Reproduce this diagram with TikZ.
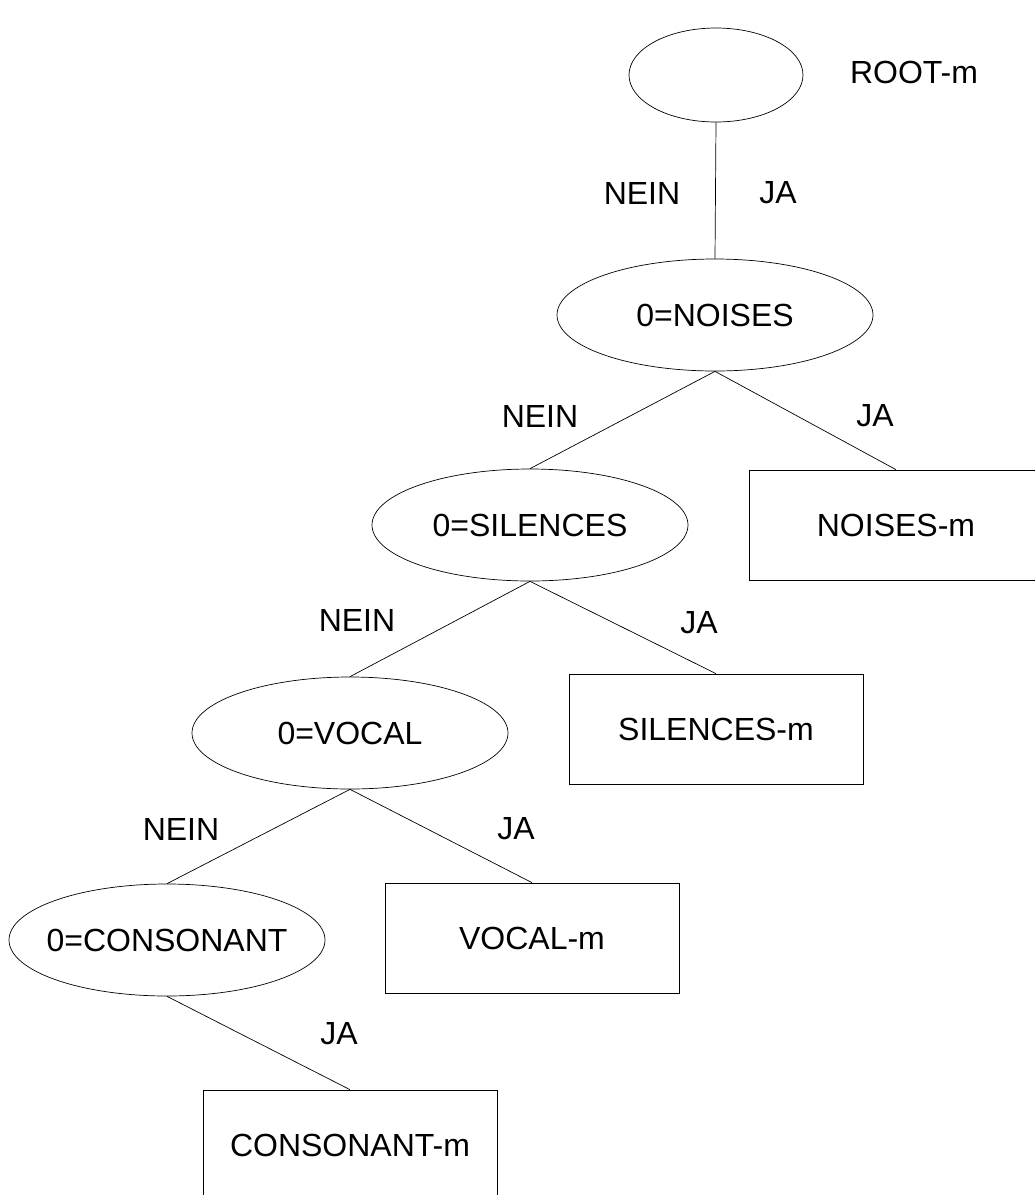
\documentclass[tikz,border=0pt]{standalone}
\usepackage{fontspec}
\setmainfont{Liberation Sans}
\usetikzlibrary{shapes.geometric}
\newcommand{\ctext}[1]{\makebox[0pt]{#1}}
\tikzset{
  oval/.style={draw, ellipse, line width=0.7pt, minimum width=316pt, minimum height=112pt, inner sep=0pt},
  rootoval/.style={draw, ellipse, line width=0.7pt, minimum width=174pt, minimum height=94pt, inner sep=0pt},
  leafbox/.style={draw, rectangle, line width=0.7pt, minimum width=294pt, minimum height=110pt, inner sep=0pt},
  lbl/.style={inner sep=0pt, font=\fontsize{32}{36}\selectfont},
  edge/.style={line width=0.7pt}
}
\begin{document}
\begin{tikzpicture}[x=1pt, y=-1pt, every node/.style={font=\fontsize{32}{36}\selectfont}]
\useasboundingbox (0,0) rectangle (1035,1195);
\clip (0,0) rectangle (1035,1195);
\fill[white] (0,0) rectangle (1035,1195);
% nodes
\node[rootoval] (root) at (716,75) {};
\node[lbl] (rootm) at (914,72) {ROOT-m};
\node[oval] (noises) at (715,315) {\ctext{0=NOISES}};
\node[oval] (silences) at (530,525) {\ctext{0=SILENCES}};
\node[leafbox] (noisesm) at (896,525) {NOISES-m};
\node[oval] (vocal) at (350,733) {\ctext{0=VOCAL}};
\node[leafbox] (silencesm) at (716,729) {SILENCES-m};
\node[oval] (consonant) at (167,940) {\ctext{0=CONSONANT}};
\node[leafbox] (vocalm) at (532,938) {VOCAL-m};
\node[leafbox] (consonantm) at (350,1145) {CONSONANT-m};
% connectors
\draw[edge] (root.south) -- (noises.north);
\draw[edge] (noises.south) -- (silences.north);
\draw[edge] (noises.south) -- (noisesm.north);
\draw[edge] (silences.south) -- (vocal.north);
\draw[edge] (silences.south) -- (silencesm.north);
\draw[edge] (vocal.south) -- (consonant.north);
\draw[edge] (vocal.south) -- (vocalm.north);
\draw[edge] (consonant.south) -- (consonantm.north);
% labels
\node[lbl] (n1) at (642,193) {NEIN};
\node[lbl] (j1) at (778,193) {JA};
\node[lbl] (n2) at (540,416) {NEIN};
\node[lbl] (j2) at (875,416) {JA};
\node[lbl] (n3) at (357,620) {NEIN};
\node[lbl] (j3) at (699,623) {JA};
\node[lbl] (n4) at (181,829) {NEIN};
\node[lbl] (j4) at (516,829) {JA};
\node[lbl] (j5) at (339,1034) {JA};
\end{tikzpicture}
\end{document}
